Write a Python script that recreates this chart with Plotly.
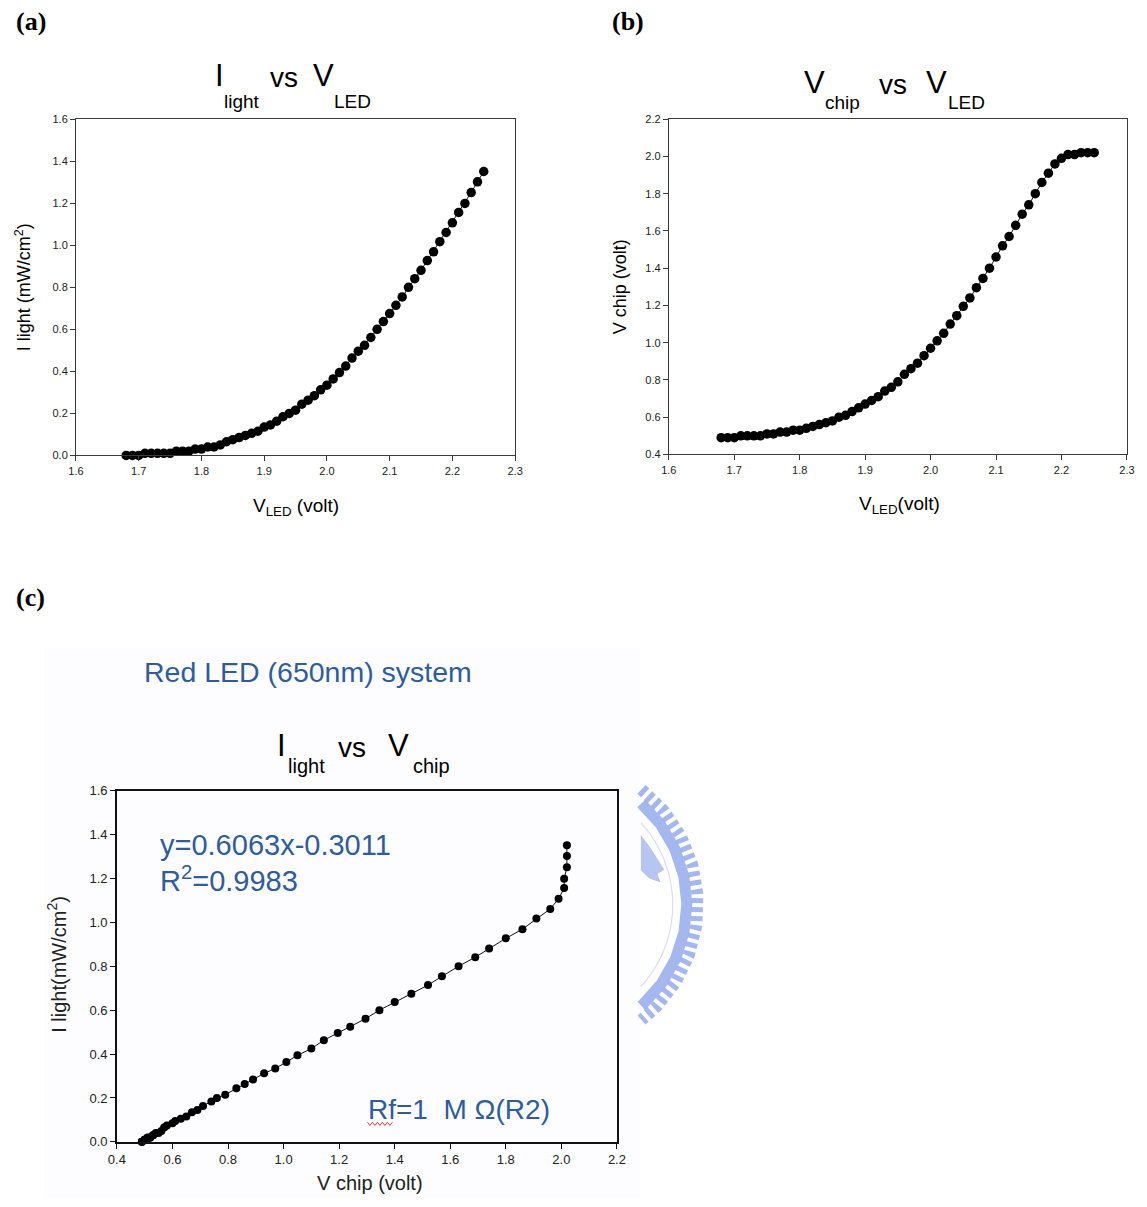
import numpy as np
import plotly.graph_objects as go

W, H = 1147, 1207
# the page adds an 8px body margin and is then fitted back to the window,
# so layout positions are given in window pixels and converted here
SX = W / (W + 16)
SY = H / (H + 16)
MARGIN = 8

# LED drive voltage sweep (volt)
v_led = [1.68, 1.69, 1.70, 1.71, 1.72, 1.73, 1.74, 1.75, 1.76, 1.77,
         1.78, 1.79, 1.80, 1.81, 1.82, 1.83, 1.84, 1.85, 1.86, 1.87,
         1.88, 1.89, 1.90, 1.91, 1.92, 1.93, 1.94, 1.95, 1.96, 1.97,
         1.98, 1.99, 2.00, 2.01, 2.02, 2.03, 2.04, 2.05, 2.06, 2.07,
         2.08, 2.09, 2.10, 2.11, 2.12, 2.13, 2.14, 2.15, 2.16, 2.17,
         2.18, 2.19, 2.20, 2.21, 2.22, 2.23, 2.24, 2.25]

# light intensity (mW/cm^2)
i_light = [0.00, 0.00, 0.00, 0.01, 0.01, 0.01, 0.01, 0.01, 0.02, 0.02,
           0.02, 0.03, 0.03, 0.04, 0.04, 0.05, 0.065, 0.075, 0.085, 0.095,
           0.105, 0.115, 0.135, 0.145, 0.163, 0.184, 0.20, 0.215, 0.244, 0.263,
           0.284, 0.312, 0.334, 0.364, 0.394, 0.425, 0.463, 0.496, 0.524, 0.561,
           0.60, 0.637, 0.675, 0.714, 0.754, 0.80, 0.841, 0.881, 0.927, 0.969,
           1.017, 1.061, 1.107, 1.156, 1.199, 1.251, 1.302, 1.351]

# chip output voltage (volt)
v_chip = [0.49, 0.49, 0.49, 0.50, 0.50, 0.50, 0.50, 0.51, 0.51, 0.52,
          0.52, 0.53, 0.53, 0.54, 0.55, 0.56, 0.57, 0.58, 0.60, 0.61,
          0.63, 0.65, 0.67, 0.69, 0.71, 0.74, 0.76, 0.79, 0.83, 0.86,
          0.89, 0.93, 0.97, 1.01, 1.05, 1.10, 1.145, 1.195, 1.24, 1.295,
          1.345, 1.40, 1.46, 1.52, 1.57, 1.63, 1.69, 1.74, 1.80, 1.86,
          1.91, 1.96, 1.99, 2.01, 2.01, 2.02, 2.02, 2.02]

ticks_vled = [1.6, 1.7, 1.8, 1.9, 2.0, 2.1, 2.2, 2.3]
ticks_ilight = [0.0, 0.2, 0.4, 0.6, 0.8, 1.0, 1.2, 1.4, 1.6]
ticks_vchip_b = [0.4, 0.6, 0.8, 1.0, 1.2, 1.4, 1.6, 1.8, 2.0, 2.2]
ticks_vchip_c = [0.4, 0.6, 0.8, 1.0, 1.2, 1.4, 1.6, 1.8, 2.0, 2.2]

SANS = "Liberation Sans, Arial, sans-serif"
SERIF = "Liberation Serif, Times New Roman, serif"
BLUE = "#2f5c9c"
WM = "#9bb1ee"


def px(x):
    return (x / SX - MARGIN) / W


def py(y):
    return 1 - (y / SY - MARGIN) / H


fig = go.Figure()

# (a) light intensity vs LED voltage
fig.add_trace(go.Scatter(
    x=v_led, y=i_light, mode="lines+markers", xaxis="x", yaxis="y",
    line=dict(color="#111", width=1), cliponaxis=False,
    marker=dict(color="#000", size=9.5), showlegend=False))

# (b) chip voltage vs LED voltage
fig.add_trace(go.Scatter(
    x=v_led, y=v_chip, mode="lines+markers", xaxis="x2", yaxis="y2",
    line=dict(color="#111", width=1), cliponaxis=False,
    marker=dict(color="#000", size=9.5), showlegend=False))

# (c) light intensity vs chip voltage
fig.add_trace(go.Scatter(
    x=v_chip, y=i_light, mode="lines+markers", xaxis="x3", yaxis="y3",
    line=dict(color="#111", width=1), cliponaxis=False,
    marker=dict(color="#000", size=8), showlegend=False))

# decorative seal at the right edge of the slide panel (window pixels)
cx, cy = 552, 905


def arc(r, clip_x=641, n=400):
    t = np.linspace(-np.pi / 2, np.pi / 2, n)
    xs = cx + r * np.cos(t)
    ys = cy + r * np.sin(t)
    keep = xs >= clip_x
    return xs[keep], ys[keep]


for r, wdt, dash, col in [(121, 1.2, "solid", "#d3dcf5"),
                          (135, 11, "solid", WM),
                          (146, 12, "5px,4px", WM)]:
    ax_, ay_ = arc(r)
    fig.add_trace(go.Scatter(
        x=ax_, y=ay_, mode="lines", xaxis="x4", yaxis="y4",
        line=dict(color=col, width=wdt, dash=dash), opacity=0.9,
        hoverinfo="skip", showlegend=False))

# fragment of the crest inside the seal
fig.add_trace(go.Scatter(
    x=[641, 650, 664, 657, 660, 649, 641], y=[836, 848, 870, 874, 882, 878, 870],
    mode="lines", fill="toself", fillcolor="#b7c6f0", xaxis="x4", yaxis="y4",
    line=dict(color="#b7c6f0", width=1), hoverinfo="skip", showlegend=False))

# red spell-check squiggle under "Rf"
zx = np.linspace(367, 392, 11)
zy = 1124 + np.where(np.arange(11) % 2 == 0, -1.6, 1.6)
fig.add_trace(go.Scatter(
    x=zx, y=zy, mode="lines", xaxis="x4", yaxis="y4",
    line=dict(color="#e23b3b", width=1), hoverinfo="skip", showlegend=False))

axis_ab = dict(showgrid=False, zeroline=False, showline=True, mirror=True,
               linecolor="#3a3a3a", linewidth=1, ticks="outside", ticklen=5,
               tickcolor="#3a3a3a", tickformat=".1f",
               tickfont=dict(family=SANS, size=11, color="#222"))
axis_c = dict(showgrid=False, zeroline=False, showline=True, mirror=True,
              linecolor="#111", linewidth=1.5, ticks="outside", ticklen=5,
              tickcolor="#111", tickformat=".1f",
              tickfont=dict(family=SANS, size=13, color="#222"))

fig.update_layout(
    width=W, height=H, margin=dict(l=0, r=0, t=0, b=0),
    paper_bgcolor="white", plot_bgcolor="rgba(0,0,0,0)",
    xaxis=dict(axis_ab, domain=[px(75), px(515)], range=[1.6, 2.3],
               tickvals=ticks_vled, anchor="y"),
    yaxis=dict(axis_ab, domain=[py(456), py(120)], range=[0, 1.6],
               tickvals=ticks_ilight, anchor="x"),
    xaxis2=dict(axis_ab, domain=[px(669), px(1128)], range=[1.6, 2.3],
                tickvals=ticks_vled, anchor="y2"),
    yaxis2=dict(axis_ab, domain=[py(455), py(120)], range=[0.4, 2.2],
                tickvals=ticks_vchip_b, anchor="x2"),
    xaxis3=dict(axis_c, domain=[px(116), px(617)], range=[0.4, 2.2],
                tickvals=ticks_vchip_c, anchor="y3"),
    yaxis3=dict(axis_c, domain=[py(1142), py(791)], range=[0, 1.6],
                tickvals=ticks_ilight, anchor="x3"),
    xaxis4=dict(domain=[0, 1], range=[MARGIN * SX, (W + MARGIN) * SX],
                visible=False, fixedrange=True, anchor="y4"),
    yaxis4=dict(domain=[0, 1], range=[(H + MARGIN) * SY, MARGIN * SY],
                visible=False, fixedrange=True, anchor="x4"),
)

# slide backdrop for panel (c)
fig.add_shape(type="rect", xref="paper", yref="paper",
              x0=px(43), x1=px(640), y0=0, y1=py(648),
              fillcolor="#fdfdff", line=dict(width=0), layer="below")


def note(x, y, text, size, color="#000", family=SANS, angle=0,
         xanchor="center", yanchor="middle"):
    fig.add_annotation(x=px(x), y=py(y), xref="paper", yref="paper",
                       text=text, showarrow=False, textangle=angle,
                       xanchor=xanchor, yanchor=yanchor,
                       font=dict(family=family, size=size, color=color))


# panel letters
note(30, 22, "<b>(a)</b>", 26, family=SERIF)
note(628, 22, "<b>(b)</b>", 26, family=SERIF)
note(29, 598, "<b>(c)</b>", 26, family=SERIF)

# (a) title: I_light vs V_LED
note(219, 76, "I", 31)
note(241, 102, "light", 19)
note(283, 78, "vs", 28)
note(323, 76, "V", 31)
note(352, 102, "LED", 19)

# (b) title: V_chip vs V_LED
note(815, 83, "V", 31)
note(843, 103, "chip", 19)
note(894, 85, "vs", 28)
note(937, 83, "V", 31)
note(967, 103, "LED", 19)

# (c) title: I_light vs V_chip
note(281, 746, "I", 31)
note(306, 766, "light", 20)
note(352, 748, "vs", 28)
note(398, 746, "V", 31)
note(431, 766, "chip", 20)

# axis titles
note(295, 508, "V<sub>LED</sub> (volt)", 19)
note(900, 506, "V<sub>LED</sub>(volt)", 19)
note(22, 288, "I light (mW/cm<sup>2</sup>)", 18, angle=-90)
note(620, 287, "V chip (volt)", 18, angle=-90)
note(370, 1183, "V chip (volt)", 20, color="#222")
note(56, 965, "I light(mW/cm<sup>2</sup>)", 20, color="#222", angle=-90)

# slide texts
note(141, 672, "Red LED (650nm) system", 28.5, color=BLUE, xanchor="left")
note(157, 845, "y=0.6063x-0.3011", 29, color=BLUE, xanchor="left")
note(157, 879, "R<sup>2</sup>=0.9983", 29, color=BLUE, xanchor="left")
note(366, 1110, "Rf=1  M Ω(R2)", 28, color=BLUE, xanchor="left")

fig.write_html("out.html")
